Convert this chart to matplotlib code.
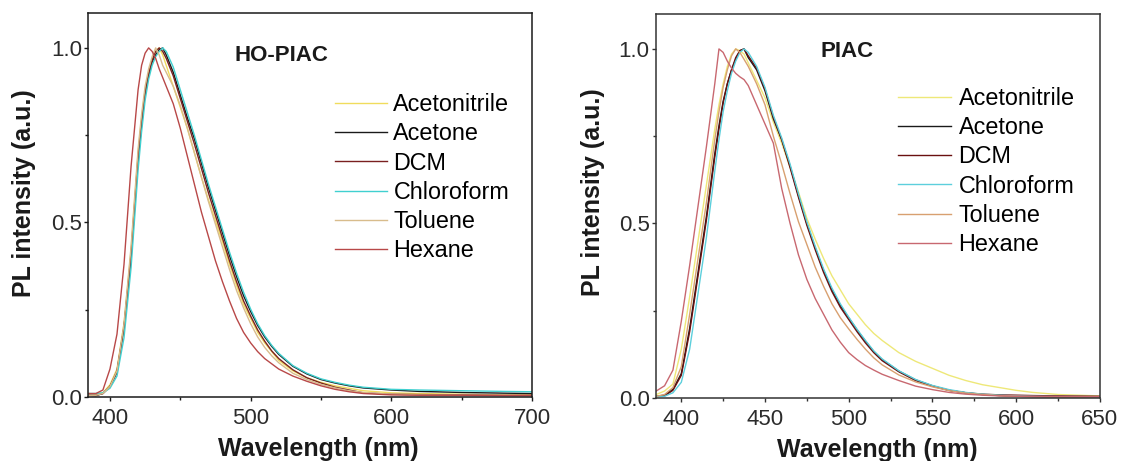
import matplotlib
matplotlib.use("Agg")
import matplotlib.pyplot as plt
from matplotlib.ticker import MultipleLocator

plt.rcParams['font.family'] = ['Liberation Sans', 'DejaVu Sans']

solvents = ["Acetonitrile", "Acetone", "DCM", "Chloroform", "Toluene", "Hexane"]

# HO-PIAC spectra
wl_ho = [385, 390, 395, 400, 405, 410, 415, 420,
         422.5, 425, 427.5, 430, 432.5, 435, 437.5, 440,
         445, 450, 455, 460, 465, 470, 475, 480, 485, 490, 495, 500, 505, 510, 515, 520,
         530, 540, 550, 560, 570, 580,
         600, 620, 650, 680, 700]
ho_acetonitrile = [0.01, 0.008, 0.012, 0.035, 0.08, 0.21, 0.42, 0.7,
                   0.8, 0.88, 0.93, 0.965, 0.99, 1.0, 0.98, 0.95,
                   0.89, 0.83, 0.77, 0.7, 0.63, 0.565, 0.505, 0.445, 0.38, 0.32, 0.265, 0.225, 0.185, 0.155, 0.13, 0.105,
                   0.075, 0.055, 0.042, 0.032, 0.025, 0.018,
                   0.012, 0.01, 0.008, 0.006, 0.006]
ho_acetone = [0.005, 0.004, 0.01, 0.03, 0.07, 0.2, 0.4, 0.68,
              0.78, 0.87, 0.92, 0.96, 0.98, 0.995, 1.0, 0.98,
              0.93, 0.865, 0.8, 0.74, 0.67, 0.6, 0.535, 0.47, 0.405, 0.345, 0.29, 0.245, 0.205, 0.172, 0.145, 0.122,
              0.088, 0.066, 0.05, 0.04, 0.032, 0.026,
              0.02, 0.016, 0.013, 0.011, 0.01]
ho_dcm = [0.005, 0.005, 0.01, 0.03, 0.075, 0.2, 0.41, 0.69,
          0.79, 0.87, 0.925, 0.965, 0.99, 1.0, 0.99, 0.97,
          0.92, 0.855, 0.79, 0.725, 0.655, 0.585, 0.52, 0.455, 0.39, 0.33, 0.275, 0.232, 0.192, 0.16, 0.132, 0.11,
          0.078, 0.055, 0.04, 0.028, 0.02, 0.012,
          0.008, 0.007, 0.006, 0.005, 0.005]
ho_chloroform = [0.01, 0.01, 0.012, 0.025, 0.06, 0.17, 0.37, 0.65,
                 0.76, 0.85, 0.91, 0.95, 0.975, 0.99, 1.0, 0.99,
                 0.945, 0.88, 0.815, 0.75, 0.68, 0.61, 0.545, 0.48, 0.415, 0.355, 0.3, 0.252, 0.21, 0.176, 0.148, 0.125,
                 0.09, 0.068, 0.052, 0.042, 0.034, 0.028,
                 0.022, 0.02, 0.018, 0.016, 0.015]
ho_toluene = [0.005, 0.005, 0.01, 0.03, 0.075, 0.21, 0.43, 0.71,
              0.81, 0.89, 0.94, 0.975, 1.0, 0.98, 0.95, 0.93,
              0.89, 0.835, 0.77, 0.7, 0.63, 0.56, 0.495, 0.43, 0.365, 0.305, 0.255, 0.21, 0.172, 0.142, 0.118, 0.098,
              0.068, 0.05, 0.036, 0.026, 0.018, 0.013,
              0.008, 0.006, 0.005, 0.005, 0.004]
ho_hexane = [0.01, 0.01, 0.02, 0.08, 0.18, 0.38, 0.66, 0.88,
             0.95, 0.985, 1.0, 0.99, 0.97, 0.94, 0.915, 0.89,
             0.84, 0.77, 0.69, 0.61, 0.53, 0.46, 0.39, 0.33, 0.275, 0.225, 0.185, 0.155, 0.13, 0.11, 0.095, 0.08,
             0.06, 0.045, 0.032, 0.022, 0.015, 0.01,
             0.006, 0.005, 0.005, 0.004, 0.004]

# PIAC spectra
wl_p = [385, 390, 395, 400, 405, 410, 415, 420,
        422.5, 425, 427.5, 430, 432.5, 435, 437.5, 440,
        445, 450, 455, 460, 465, 470, 475, 480, 485, 490, 495, 500, 505, 510, 515, 520,
        530, 540, 550, 560, 570, 580,
        590, 600, 610, 625, 650]
p_acetonitrile = [0.01, 0.02, 0.04, 0.14, 0.29, 0.45, 0.61, 0.77,
                  0.84, 0.9, 0.95, 0.985, 1.0, 0.995, 0.985, 0.96,
                  0.91, 0.86, 0.79, 0.73, 0.66, 0.59, 0.515, 0.455, 0.4, 0.35, 0.31, 0.27, 0.24, 0.21, 0.185, 0.165,
                  0.13, 0.105, 0.085, 0.065, 0.05, 0.038,
                  0.03, 0.022, 0.016, 0.01, 0.006]
p_acetone = [0.005, 0.008, 0.025, 0.07, 0.2, 0.36, 0.52, 0.7,
             0.78, 0.85, 0.9, 0.94, 0.97, 0.995, 1.0, 0.975,
             0.94, 0.88, 0.8, 0.74, 0.665, 0.58, 0.5, 0.43, 0.365, 0.31, 0.265, 0.23, 0.195, 0.163, 0.133, 0.11,
             0.077, 0.052, 0.035, 0.022, 0.015, 0.01,
             0.007, 0.005, 0.004, 0.003, 0.003]
p_dcm = [0.004, 0.006, 0.022, 0.065, 0.19, 0.35, 0.51, 0.69,
         0.77, 0.845, 0.9, 0.94, 0.975, 0.995, 1.0, 0.98,
         0.945, 0.885, 0.805, 0.74, 0.66, 0.575, 0.495, 0.425, 0.36, 0.305, 0.26, 0.225, 0.19, 0.158, 0.13, 0.107,
         0.075, 0.05, 0.034, 0.022, 0.015, 0.011,
         0.009, 0.008, 0.007, 0.006, 0.005]
p_chloroform = [0.005, 0.005, 0.015, 0.045, 0.14, 0.3, 0.46, 0.65,
                0.74, 0.82, 0.88, 0.93, 0.965, 0.99, 1.0, 0.99,
                0.95, 0.89, 0.81, 0.745, 0.67, 0.585, 0.505, 0.435, 0.37, 0.315, 0.27, 0.232, 0.197, 0.165, 0.135, 0.112,
                0.078, 0.053, 0.036, 0.024, 0.016, 0.011,
                0.008, 0.006, 0.005, 0.004, 0.004]
p_toluene = [0.005, 0.01, 0.03, 0.09, 0.24, 0.4, 0.56, 0.74,
             0.82, 0.89, 0.94, 0.98, 1.0, 0.99, 0.97, 0.95,
             0.9, 0.84, 0.75, 0.67, 0.585, 0.505, 0.44, 0.375, 0.32, 0.27, 0.23, 0.198, 0.168, 0.14, 0.115, 0.095,
             0.066, 0.046, 0.032, 0.021, 0.014, 0.01,
             0.007, 0.005, 0.004, 0.003, 0.003]
p_hexane = [0.02, 0.035, 0.08, 0.22, 0.38, 0.55, 0.72, 0.9,
            1.0, 0.99, 0.965, 0.945, 0.93, 0.92, 0.912, 0.895,
            0.84, 0.785, 0.73, 0.6, 0.5, 0.41, 0.34, 0.285, 0.24, 0.195, 0.16, 0.13, 0.11, 0.093, 0.08, 0.068,
            0.05, 0.034, 0.024, 0.016, 0.011, 0.008,
            0.006, 0.005, 0.005, 0.004, 0.004]

ho_colors = ['#f0dc5c', '#1a1a1a', '#7a2020', '#40d0d0', '#d8bc8c', '#b84848']
p_colors = ['#eee878', '#1a1a1a', '#6a1010', '#5ccfdc', '#d8a070', '#c86870']

fig = plt.figure(figsize=(11.21, 4.61), dpi=100)
ax1 = fig.add_axes([88 / 1121, 64 / 461, 444 / 1121, 384 / 461])
ax2 = fig.add_axes([655.7 / 1121, 63 / 461, 444 / 1121, 384 / 461])


def style_axis(ax, xlim, xmajor, xminor, spine_color):
    ax.set_xlim(*xlim)
    ax.set_ylim(0, 1.1)
    ax.xaxis.set_major_locator(MultipleLocator(xmajor))
    ax.xaxis.set_minor_locator(MultipleLocator(xminor))
    ax.yaxis.set_major_locator(MultipleLocator(0.5))
    ax.yaxis.set_minor_locator(MultipleLocator(0.25))
    ax.tick_params(which='major', direction='out', length=3.2, width=1.0,
                   labelsize=16, labelcolor='#2b2b2b', color=spine_color)
    ax.tick_params(which='minor', direction='out', length=2.4, width=1.0, color=spine_color)
    ax.tick_params(axis='x', which='major', pad=5)
    ax.tick_params(axis='y', which='major', pad=1.2)
    for sp in ax.spines.values():
        sp.set_linewidth(1.1)
        sp.set_color(spine_color)
    ax.set_xlabel("Wavelength (nm)", fontsize=18, fontweight='bold', color='#1a1a1a')
    ax.set_ylabel("PL intensity (a.u.)", fontsize=18, fontweight='bold', color='#1a1a1a')


ho_data = [ho_acetonitrile, ho_acetone, ho_dcm, ho_chloroform, ho_toluene, ho_hexane]
for name, vals, c in zip(solvents, ho_data, ho_colors):
    ax1.plot(wl_ho, vals, color=c, lw=1.0, label=name)

p_data = [p_acetonitrile, p_acetone, p_dcm, p_chloroform, p_toluene, p_hexane]
for name, vals, c in zip(solvents, p_data, p_colors):
    ax2.plot(wl_p, vals, color=c, lw=1.0, label=name)

style_axis(ax1, (384.4, 700), 100, 50, '#1a1a1a')
style_axis(ax2, (384.7, 650), 50, 25, '#333333')

ax1.xaxis.set_label_coords(0.518, -0.104)
ax2.xaxis.set_label_coords(0.5, -0.104)
ax1.yaxis.set_label_coords(-0.118, 0.531)
ax2.yaxis.set_label_coords(-0.115, 0.536)

ax1.text(0.329, 0.889, "HO-PIAC", transform=ax1.transAxes, fontsize=16,
         fontweight='bold', va='center', ha='left', color='#1a1a1a')
ax2.text(0.372, 0.902, "PIAC", transform=ax2.transAxes, fontsize=16,
         fontweight='bold', va='center', ha='left', color='#1a1a1a')

leg_kw = dict(frameon=False, fontsize=16.8, handlelength=2.25, borderpad=0,
              borderaxespad=0, labelspacing=0.265, loc='upper left')
ax1.legend(bbox_to_anchor=(0.556, 0.791), handletextpad=0.26, **leg_kw)
ax2.legend(bbox_to_anchor=(0.546, 0.810), handletextpad=0.34, **leg_kw)

fig.savefig("out.png", dpi=100)
